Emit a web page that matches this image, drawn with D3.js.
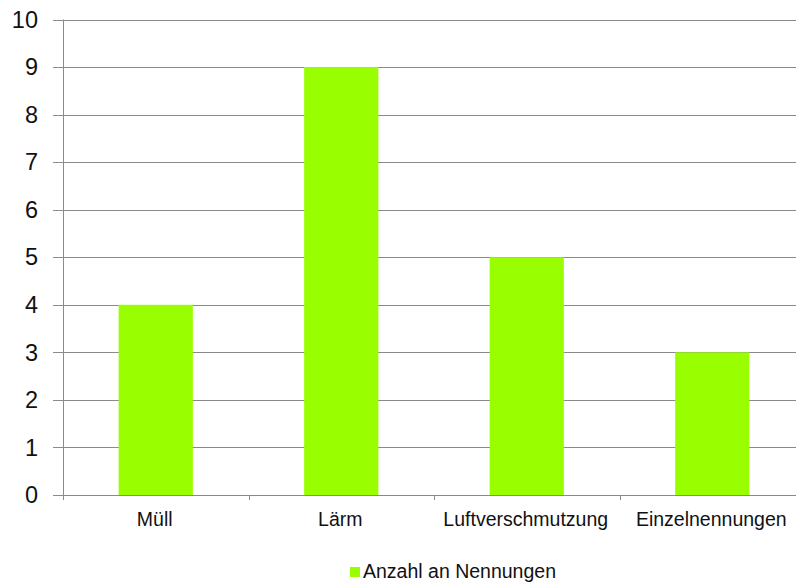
<!DOCTYPE html>
<html><head><meta charset="utf-8">
<script src="https://cdn.jsdelivr.net/npm/d3@7"></script>
<style>body{margin:0;background:#fff}svg{display:block}</style>
</head><body>
<svg id="c" width="796" height="584"></svg>
<script>
const categories = ["Müll", "Lärm", "Luftverschmutzung", "Einzelnennungen"];
const values = [4, 9, 5, 3];
const yTicks = [0,1,2,3,4,5,6,7,8,9,10];
const seriesName = "Anzahl an Nennungen";

(function () {
const svg = d3.select("#c");
const mLeft = 63, mRight = 805, mTop = 19.5, mBottom = 495;
const x = d3.scaleBand().domain(categories).range([mLeft, mRight]).padding(0);
const y = d3.scaleLinear().domain([0, 10]).range([mBottom, mTop]);
const font = "Arial, 'Liberation Sans', sans-serif";

// gridlines
svg.append("g").selectAll("line").data(yTicks).join("line")
  .attr("x1", mLeft - 10).attr("x2", mRight)
  .attr("y1", d => Math.round(y(d)) + 0.5).attr("y2", d => Math.round(y(d)) + 0.5)
  .attr("stroke", "#8a8a8a").attr("stroke-width", 1);

// bars
svg.append("g").selectAll("rect").data(values).join("rect")
  .attr("x", (d, i) => x(categories[i]) + x.bandwidth() * 0.3)
  .attr("width", x.bandwidth() * 0.4)
  .attr("y", d => y(d))
  .attr("height", d => y(0) - y(d))
  .attr("fill", "#99ff00");

// y axis line
svg.append("line").attr("x1", mLeft + 0.5).attr("x2", mLeft + 0.5)
  .attr("y1", mTop).attr("y2", mBottom + 5).attr("stroke", "#8a8a8a");
// x axis line
svg.append("line").attr("x1", mLeft).attr("x2", mRight)
  .attr("y1", Math.round(y(0)) + 0.5).attr("y2", Math.round(y(0)) + 0.5).attr("stroke", "#8a8a8a");
// category ticks
svg.append("g").selectAll("line").data(categories.slice(1)).join("line")
  .attr("x1", d => Math.round(x(d)) + 0.5).attr("x2", d => Math.round(x(d)) + 0.5)
  .attr("y1", mBottom).attr("y2", mBottom + 5).attr("stroke", "#8a8a8a");

// y labels
svg.append("g").selectAll("text").data(yTicks).join("text")
  .attr("x", 38).attr("y", d => y(d)).attr("dy", "0.35em")
  .attr("text-anchor", "end").attr("font-family", font).attr("font-size", 23.5)
  .attr("fill", "#111").text(d => d);

// x labels
svg.append("g").selectAll("text").data(categories).join("text")
  .attr("x", d => x(d) + x.bandwidth() / 2 - 1).attr("y", 526)
  .attr("text-anchor", "middle").attr("font-family", font).attr("font-size", 19.5)
  .attr("fill", "#111").text(d => d);

// legend
const lg = svg.append("g");
lg.append("rect").attr("x", 350).attr("y", 567).attr("width", 10).attr("height", 10).attr("fill", "#99ff00");
lg.append("text").attr("x", 363).attr("y", 578).attr("font-family", font).attr("font-size", 19.5)
  .attr("fill", "#111").text(seriesName);
})();
</script>
</body></html>
